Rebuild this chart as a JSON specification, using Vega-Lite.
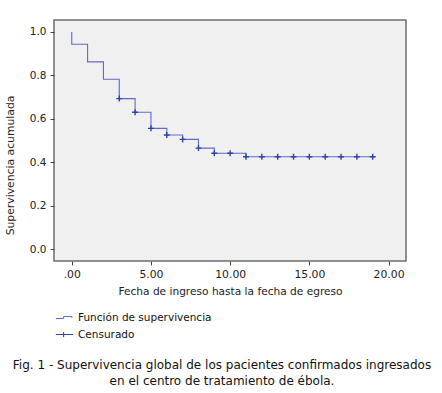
{
  "$schema": "https://vega.github.io/schema/vega-lite/v6.json",
  "width": 352,
  "height": 241,
  "autosize": {"type": "none"},
  "padding": {"left": 54, "top": 20, "right": 36, "bottom": 132},
  "background": "white",
  "config": {
    "font": "DejaVu Sans",
    "view": {"fill": "#f0f0f0", "stroke": "#6e6e6e", "strokeWidth": 1.5},
    "axis": {"domain": false, "grid": false, "tickColor": "#444", "tickSize": 4, "labelColor": "#222", "titleColor": "#222", "titleFontWeight": "normal", "labelFont": "DejaVu Sans", "titleFont": "DejaVu Sans"},
    "legend": {
      "title": null,
      "orient": "none",
      "legendX": 1,
      "legendY": 288,
      "direction": "vertical",
      "labelFontSize": 10.5,
      "labelColor": "#111",
      "labelFont": "DejaVu Sans",
      "labelOffset": 4,
      "rowPadding": 2,
      "symbolSize": 300,
      "symbolStrokeWidth": 1,
      "symbolFillColor": "transparent",
      "symbolStrokeColor": "#6b7cd0"
    }
  },
  "title": {
    "text": ["Fig. 1 - Supervivencia global de los pacientes confirmados ingresados", "en el centro de tratamiento de ébola."],
    "orient": "bottom",
    "anchor": "middle",
    "font": "DejaVu Sans",
    "fontSize": 12,
    "fontWeight": "normal",
    "color": "#111",
    "lineHeight": 16,
    "offset": 20,
    "dx": -8
  },
  "data": {
    "values": [
      {"t": 0, "s": 1.0, "serie": "Función de supervivencia"},
      {"t": 0, "s": 0.943, "serie": "Función de supervivencia"},
      {"t": 1, "s": 0.862, "serie": "Función de supervivencia"},
      {"t": 2, "s": 0.782, "serie": "Función de supervivencia"},
      {"t": 3, "s": 0.693, "serie": "Función de supervivencia"},
      {"t": 4, "s": 0.630, "serie": "Función de supervivencia"},
      {"t": 5, "s": 0.556, "serie": "Función de supervivencia"},
      {"t": 6, "s": 0.525, "serie": "Función de supervivencia"},
      {"t": 7, "s": 0.505, "serie": "Función de supervivencia"},
      {"t": 8, "s": 0.465, "serie": "Función de supervivencia"},
      {"t": 9, "s": 0.441, "serie": "Función de supervivencia"},
      {"t": 11, "s": 0.425, "serie": "Función de supervivencia"},
      {"t": 19.1, "s": 0.425, "serie": "Función de supervivencia"},
      {"t": 3, "s": 0.693, "serie": "Censurado"},
      {"t": 4, "s": 0.630, "serie": "Censurado"},
      {"t": 5, "s": 0.556, "serie": "Censurado"},
      {"t": 6, "s": 0.525, "serie": "Censurado"},
      {"t": 7, "s": 0.505, "serie": "Censurado"},
      {"t": 8, "s": 0.465, "serie": "Censurado"},
      {"t": 9, "s": 0.441, "serie": "Censurado"},
      {"t": 10, "s": 0.441, "serie": "Censurado"},
      {"t": 11, "s": 0.425, "serie": "Censurado"},
      {"t": 12, "s": 0.425, "serie": "Censurado"},
      {"t": 13, "s": 0.425, "serie": "Censurado"},
      {"t": 14, "s": 0.425, "serie": "Censurado"},
      {"t": 15, "s": 0.425, "serie": "Censurado"},
      {"t": 16, "s": 0.425, "serie": "Censurado"},
      {"t": 17, "s": 0.425, "serie": "Censurado"},
      {"t": 18, "s": 0.425, "serie": "Censurado"},
      {"t": 19, "s": 0.425, "serie": "Censurado"}
    ]
  },
  "encoding": {
    "x": {
      "field": "t", "type": "quantitative",
      "scale": {"domain": [-1.12, 21.1], "nice": false, "zero": false},
      "axis": {
        "values": [0, 5, 10, 15, 20],
        "labelExpr": "datum.value == 0 ? '.00' : format(datum.value, '.2f')",
        "labelFontSize": 10.8,
        "labelPadding": 3,
        "title": "Fecha de ingreso hasta la fecha de egreso",
        "titleFontSize": 10.6,
        "titlePadding": 8
      }
    },
    "y": {
      "field": "s", "type": "quantitative",
      "scale": {"domain": [-0.055, 1.055], "nice": false, "zero": false},
      "axis": {
        "values": [0, 0.2, 0.4, 0.6, 0.8, 1.0],
        "format": ".1f",
        "labelFontSize": 10.5,
        "labelPadding": 4,
        "title": "Supervivencia acumulada",
        "titleFontSize": 10.8,
        "titleX": -44,
        "titleY": 145,
        "titleAngle": -90,
        "titleAlign": "center",
        "titleBaseline": "middle"
      }
    },
    "color": {
      "field": "serie", "type": "nominal",
      "scale": {"domain": ["Función de supervivencia", "Censurado"], "range": ["#5a6cc8", "#2c43a0"]},
      "legend": {
        "encode": {
          "symbols": {
            "update": {
              "shape": {"signal": "datum.value == 'Censurado' ? 'M-1,0L1,0M-0.1,-0.3L-0.1,0.3' : 'M-1,0.12L-0.1,0.12L-0.1,-0.12L0.85,-0.12L0.85,0.04'"},
              "stroke": {"value": "#6b7cd0"},
              "fill": {"value": "transparent"},
              "strokeWidth": {"value": 1}
            }
          }
        }
      }
    }
  },
  "layer": [
    {
      "transform": [{"filter": "datum.serie == 'Función de supervivencia'"}],
      "mark": {"type": "line", "interpolate": "step-after", "strokeWidth": 1.1}
    },
    {
      "transform": [{"filter": "datum.serie == 'Censurado'"}],
      "mark": {"type": "point", "shape": "M-1,0L1,0M0,-1L0,1", "filled": false, "strokeWidth": 1.4, "size": 36, "opacity": 1}
    }
  ]
}
